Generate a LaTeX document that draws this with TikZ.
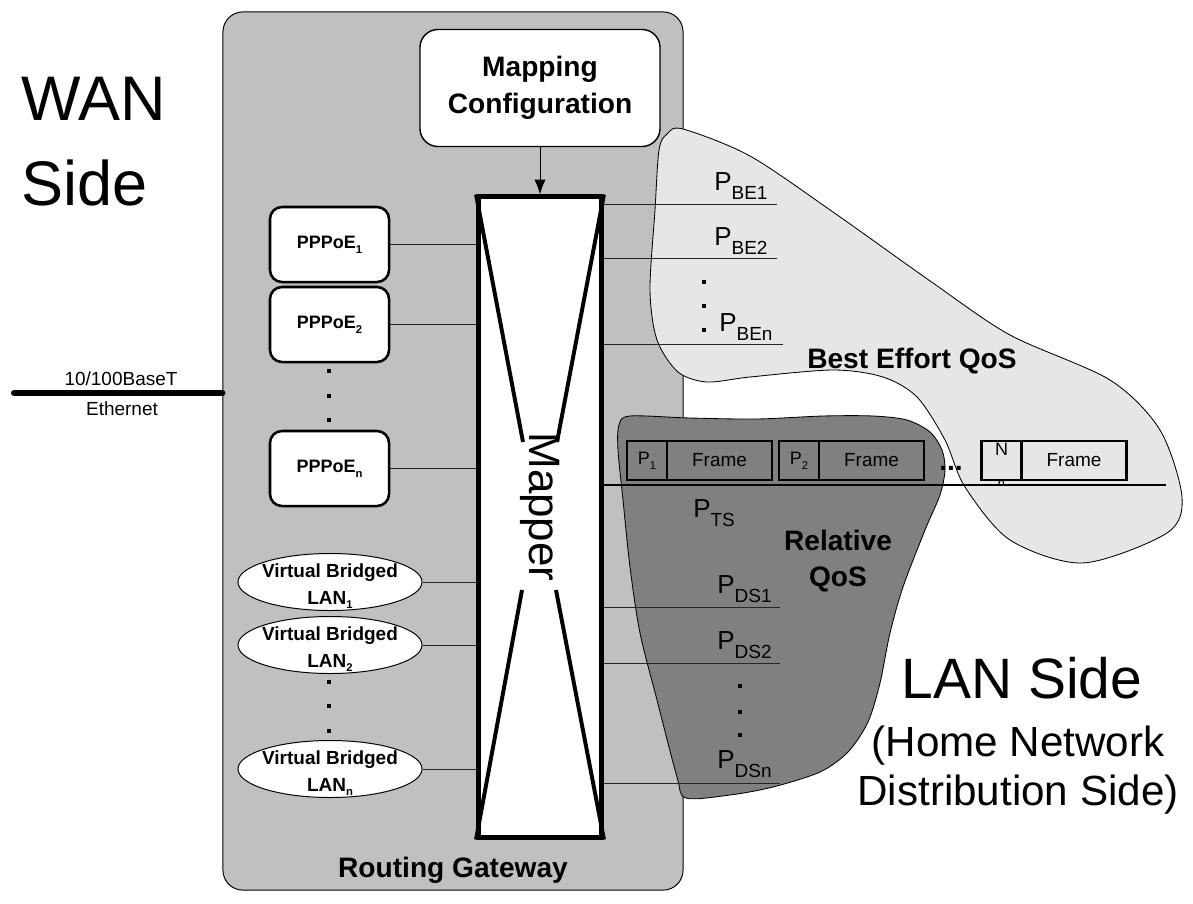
\documentclass[tikz,border=0pt]{standalone}
\usepackage{fontspec}
\setmainfont{Liberation Sans}
\usetikzlibrary{positioning,arrows.meta,shapes.geometric}

\definecolor{gwgray}{HTML}{C0C0C0}
\definecolor{begray}{HTML}{E6E6E6}
\definecolor{rqgray}{HTML}{808080}

\newcommand{\plab}[1]{P\raisebox{-7pt}{\fontsize{13.5}{16}\selectfont #1}}
\newcommand{\lsub}[1]{\raisebox{-3.5pt}{\fontsize{8}{9}\selectfont #1}}

\begin{document}
\begin{tikzpicture}[x=0.025cm, y=-0.025cm,
    gateway/.style={rectangle, rounded corners=0.5cm, draw=black, line width=0.7pt, fill=gwgray, minimum width=11.5cm, minimum height=21.95cm},
    cfgbox/.style={rectangle, rounded corners=0.45cm, draw=black, line width=1pt, fill=white, minimum width=6cm, minimum height=2.925cm, align=center, font=\fontsize{20}{26}\selectfont\bfseries},
    mapperbox/.style={rectangle, draw=black, line width=3.5pt, fill=white, minimum width=3.075cm, minimum height=16cm},
    mappertext/.style={rotate=-90, inner sep=0pt, font=\fontsize{31.3}{36}\selectfont},
    hourglass/.style={line width=2.8pt},
    pppbox/.style={rectangle, rounded corners=0.3cm, draw=black, line width=1.8pt, fill=white, minimum width=2.975cm, minimum height=1.875cm, font=\fontsize{12.8}{15}\selectfont\bfseries},
    lanell/.style={ellipse, draw=black, line width=0.7pt, fill=white, minimum width=4.6cm, minimum height=1.425cm},
    lantext/.style={align=center, inner sep=0pt, yshift=-3pt, font=\fontsize{13.5}{19}\selectfont\bfseries},
    vdot/.style={rectangle, fill=black, inner sep=0pt, minimum size=0.1cm},
    link/.style={line width=0.7pt, black!85},
    frameline/.style={line width=2pt},
    ethline/.style={line width=4.3pt, line cap=round},
    ethtext/.style={anchor=base, inner sep=0pt, font=\fontsize{13.5}{16}\selectfont},
    pbox/.style={rectangle, draw=black, line width=1.8pt, outer sep=0pt, inner sep=0pt, minimum width=1cm, minimum height=0.975cm, font=\fontsize{12.8}{15}\selectfont},
    fbox/.style={rectangle, draw=black, line width=1.8pt, outer sep=0pt, inner sep=0pt, minimum width=2.625cm, minimum height=0.975cm, font=\fontsize{13.5}{16}\selectfont},
    plabel/.style={anchor=base west, inner sep=0pt, font=\fontsize{18.5}{22}\selectfont},
    qostext/.style={inner sep=0pt, font=\fontsize{20}{25}\selectfont\bfseries},
    wantext/.style={anchor=base west, inner sep=0pt, font=\fontsize{44.8}{50}\selectfont},
    lanbig/.style={anchor=base, inner sep=0pt, font=\fontsize{40.5}{46}\selectfont},
    lansmall/.style={anchor=base, inner sep=0pt, font=\fontsize{30}{35}\selectfont}
]
    \useasboundingbox (0,0) rectangle (1193,903);

    % Gateway
    \node[gateway] (gw) at (453,451) {};

    % QoS regions
    \path[draw=black, line width=0.6pt, fill=begray] plot[smooth cycle] coordinates {
        (683,129) (750,156) (833,212) (933,283) (1010,335) (1110,380) (1160,430)
        (1182,497) (1167,533) (1083,563) (1010,540) (965,487) (945,440) (917,397)
        (883,377) (833,370) (750,377) (707,382) (678,372) (657,340) (650,290)
        (655,210) (659,150) (667,134)};
    \path[draw=black, line width=0.6pt, fill=rqgray] plot[smooth cycle] coordinates {
        (630,416) (690,418) (757,419) (823,416) (873,416) (907,420) (930,432)
        (942,450) (945,470) (940,495) (925,530) (903,587) (890,633) (880,683)
        (868,722) (848,752) (820,772) (773,787) (730,795) (686,798) (677,777)
        (657,700) (640,633) (630,567) (623,500) (618,450) (619,425)};

    % Mapper
    \node[cfgbox] (cfg) at (540,88) {Mapping\\Configuration};
    \node[mapperbox] (mapper) at (540,517) {};
    \draw[-{Latex[width=0.28cm, length=0.37cm]}, line width=0.7pt] (cfg.south) -- (mapper.north);
    \draw[hourglass] (mapper.north west) -- (523,442);
    \draw[hourglass] (mapper.north east) -- (557,442);
    \draw[hourglass] (mapper.south west) -- (522,590);
    \draw[hourglass] (mapper.south east) -- (556,590);
    \node[mappertext] (maptxt) at (540,507) {Mapper};

    % WAN side sessions
    \node[pppbox] (ppp1) at (329.5,244.5) {PPPoE\lsub{1}};
    \node[pppbox] (ppp2) at (329.5,324.5) {PPPoE\lsub{2}};
    \node[pppbox] (pppn) at (329.5,468.5) {PPPoE\lsub{n}};
    \node[lanell, label={[lantext]center:{Virtual Bridged\\LAN\lsub{1}}}] (lan1) at (330,582) {};
    \node[lanell, label={[lantext]center:{Virtual Bridged\\LAN\lsub{2}}}] (lan2) at (330,645) {};
    \node[lanell, label={[lantext]center:{Virtual Bridged\\LAN\lsub{n}}}] (lann) at (330,769) {};
    \foreach \n in {ppp1,ppp2,pppn,lan1,lan2,lann}
        \draw[link] (\n.east) -- (\n.east -| mapper.west);
    \foreach \y [count=\i] in {371,396,420}
        \node[vdot] (pppdot\i) at (329,\y) {};
    \foreach \y [count=\i] in {682,706,731}
        \node[vdot] (landot\i) at (329,\y) {};

    % Ethernet
    \coordinate (ethend) at (14,393);
    \draw[ethline] (ethend) -- (ethend -| gw.west);
    \node[ethtext] (ethtop) at (121,385) {10/100BaseT};
    \node[ethtext] (ethbot) at (122,415) {Ethernet};

    % Best effort ports
    \coordinate (be1end) at (777,204);
    \coordinate (be2end) at (777,258);
    \coordinate (bennd) at (783,344);
    \foreach \c in {be1end,be2end,bennd}
        \draw[link] (\c -| mapper.east) -- (\c);
    \node[plabel] (pbe1) at (714,190) {\plab{BE1}};
    \node[plabel] (pbe2) at (714,245) {\plab{BE2}};
    \node[plabel] (pben) at (719,331) {\plab{BEn}};
    \foreach \y [count=\i] in {282,306,330}
        \node[vdot] (bedot\i) at (704,\y) {};

    % Traffic stream with frames
    \coordinate (tsend) at (1166,485);
    \draw[frameline] (tsend -| mapper.east) -- (tsend);
    \node[pbox] (p1) at (647,460.5) {P\lsub{1}};
    \node[fbox, right=0pt of p1] (f1) {Frame};
    \node[pbox] (p2) at (799,460.5) {P\lsub{2}};
    \node[fbox, right=0pt of p2] (f2) {Frame};
    \node[pbox] (pn) at (1001.5,460.5) {};
    \node[fbox, right=0pt of pn] (fn) {Frame};
    \node[anchor=base, inner sep=0pt, font=\fontsize{12.8}{15}\selectfont] (ntxt) at (1001.5,455) {N};
    \begin{scope}
        \clip (982,470) rectangle (1021,484);
        \node[anchor=base, inner sep=0pt, font=\fontsize{9}{10}\selectfont] (nsub) at (1001.5,487) {n};
    \end{scope}
    \node[anchor=base west, inner sep=0pt, font=\fontsize{20}{25}\selectfont\bfseries] (fdots) at (939,470) {...};
    \node[plabel] (pts) at (693,517) {\plab{TS}};

    % Differentiated ports
    \coordinate (ds1end) at (780,607);
    \coordinate (ds2end) at (780,663);
    \coordinate (dsnend) at (780,783);
    \foreach \c in {ds1end,ds2end,dsnend}
        \draw[link] (\c -| mapper.east) -- (\c);
    \node[plabel] (pds1) at (717,593) {\plab{DS1}};
    \node[plabel] (pds2) at (717,649) {\plab{DS2}};
    \node[plabel] (pdsn) at (717,768) {\plab{DSn}};
    \foreach \y [count=\i] in {686,712,735}
        \node[vdot] (dsdot\i) at (740,\y) {};

    % Labels
    \node[qostext, anchor=base west] (betxt) at (807,368) {Best Effort QoS};
    \node[qostext, align=center] (rqtxt) at (838,561) {Relative\\QoS};
    \node[qostext, anchor=base] (gwtxt) at (453,877) {Routing Gateway};
    \node[wantext] (wan) at (21,120) {WAN};
    \node[wantext] (wanside) at (21,205) {Side};
    \node[lanbig] (lanside) at (1022,698) {LAN Side};
    \node[lansmall] (lanhome) at (1018,756) {(Home Network};
    \node[lansmall] (landist) at (1018,805) {Distribution Side)};
\end{tikzpicture}
\end{document}
